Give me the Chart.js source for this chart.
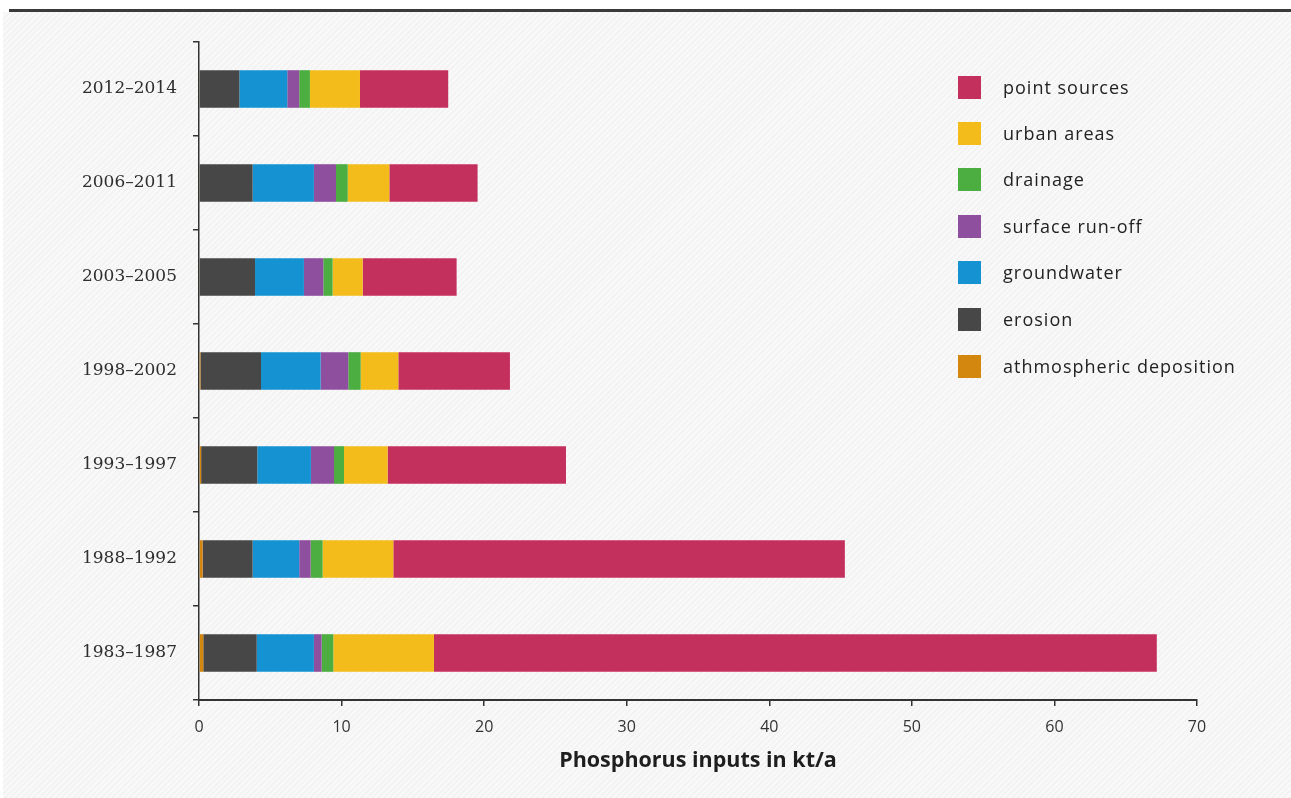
<!DOCTYPE html>
<html>
<head>
<meta charset="utf-8">
<script src="https://cdn.jsdelivr.net/npm/chart.js@4.4.1/dist/chart.umd.min.js"></script>
<style>
  html, body { margin: 0; padding: 0; }
  body {
    width: 1291px; height: 798px; position: relative; overflow: hidden;
    background: #ffffff;
  }
  #bg {
    position: absolute; left: 3px; top: 12px; right: 0; bottom: 0;
    background: repeating-linear-gradient(135deg, #f3f3f3 0px, #f3f3f3 2px, #f9f9f9 2px, #f9f9f9 4px);
  }
  #topline {
    position: absolute; left: 9px; right: 0; top: 9px; height: 3px; background: #3a3a3a;
  }
  #wrap { position: absolute; left: 0; top: 0; width: 1291px; height: 798px; }
  #legend {
    position: absolute; left: 958px; top: 0; margin: 0; padding: 0; list-style: none;
    font-family: "Open Sans", sans-serif; font-size: 18px; color: #222; letter-spacing: 1px;
  }
  #legend li { position: absolute; left: 0; white-space: nowrap; height: 24px; line-height: 24px; }
  #legend .sw { position: absolute; left: 0; top: 0; width: 23px; height: 23px; }
  #legend .tx { position: absolute; left: 45px; top: -1px; }
</style>
</head>
<body>
<div id="bg"></div>
<div id="topline"></div>
<div id="wrap"><canvas id="c" width="1291" height="798"></canvas></div>
<ul id="legend"></ul>
<script>
// Periods (categories), chronological
const periods = ['1983–1987', '1988–1992', '1993–1997', '1998–2002', '2003–2005', '2006–2011', '2012–2014'];
// Phosphorus inputs in kt/a per pathway
const atmospheric = [0.30, 0.25, 0.15, 0.10, 0.05, 0.05, 0.05];
const erosion     = [3.75, 3.51, 3.94, 4.25, 3.88, 3.71, 2.78];
const groundwater = [4.01, 3.27, 3.76, 4.18, 3.43, 4.30, 3.36];
const surfaceRunoff = [0.54, 0.80, 1.62, 1.94, 1.36, 1.55, 0.84];
const drainage    = [0.82, 0.84, 0.70, 0.87, 0.65, 0.82, 0.75];
const urbanAreas  = [7.06, 4.96, 3.06, 2.64, 2.11, 2.92, 3.51];
const pointSources = [50.70, 31.67, 12.51, 7.83, 6.59, 6.19, 6.19];
const xTicks = [0, 10, 20, 30, 40, 50, 60, 70];
const seriesNames = ['athmospheric deposition', 'erosion', 'groundwater', 'surface run-off', 'drainage', 'urban areas', 'point sources'];
const seriesColors = ['#d4870f', '#474747', '#1592d2', '#8f4f9f', '#4cad40', '#f3bc1a', '#c4305e'];
const seriesData = [atmospheric, erosion, groundwater, surfaceRunoff, drainage, urbanAreas, pointSources];

const datasets = seriesData.map((d, i) => ({
  label: seriesNames[i],
  data: d,
  backgroundColor: seriesColors[i],
  borderWidth: 0,
  barPercentage: 0.4,
  categoryPercentage: 1.0
}));

new Chart(document.getElementById('c'), {
  type: 'bar',
  data: { labels: periods, datasets },
  options: {
    indexAxis: 'y',
    responsive: false,
    animation: false,
    maintainAspectRatio: false,
    layout: { padding: { top: 42, right: 94, left: 0, bottom: 24 } },
    plugins: { legend: { display: false }, tooltip: { enabled: false } },
    scales: {
      x: {
        stacked: true,
        min: 0, max: 70,
        afterBuildTicks: (s) => { s.ticks = xTicks.map(v => ({ value: v })); },
        afterFit: (s) => { s.height = 74; },
        grid: { display: true, drawOnChartArea: false, tickLength: 6, color: '#333', lineWidth: 1.5 },
        border: { display: true, color: '#333', width: 2 },
        ticks: { color: '#333', padding: 12, font: { family: 'Open Sans', size: 16 } },
        title: {
          display: true, text: 'Phosphorus inputs in kt/a', color: '#1e1e1e',
          font: { family: 'Open Sans', size: 21.5, weight: 'bold' }, padding: { top: 0, bottom: 0 }
        }
      },
      y: {
        stacked: true,
        reverse: true,
        afterFit: (s) => { s.width = 199; },
        grid: { display: true, drawOnChartArea: false, offset: true, tickLength: 6, color: '#333', lineWidth: 1.5 },
        border: { display: true, color: '#333', width: 1.5 },
        ticks: { color: '#2e2e2e', padding: 16, font: { family: 'DejaVu Serif', size: 17 } }
      }
    }
  }
});

// HTML legend (reverse order, as in the reference)
const centers = [88, 134, 180, 227, 273, 320, 367];
const legend = document.getElementById('legend');
for (let k = 0; k < seriesNames.length; k++) {
  const i = seriesNames.length - 1 - k;
  const li = document.createElement('li');
  li.style.top = (centers[k] - 12) + 'px';
  li.innerHTML = '<span class="sw" style="background:' + seriesColors[i] + '"></span><span class="tx"></span>';
  li.querySelector('.tx').textContent = seriesNames[i];
  legend.appendChild(li);
}
</script>
</body>
</html>
